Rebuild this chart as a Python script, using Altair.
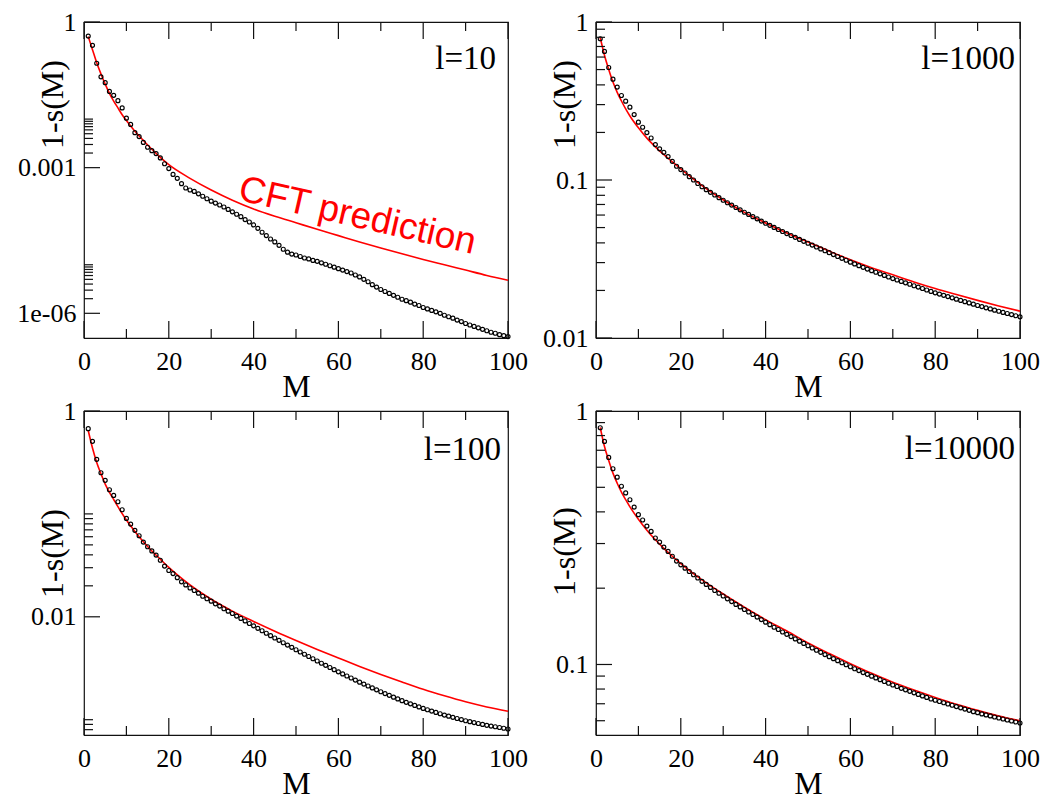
import altair as alt
import pandas as pd

SERIF = "Liberation Serif"
SANS = "Liberation Sans"

# ---------------- data (as log10 of 1-s(M)) ----------------
M = list(range(1, 101))

dots_l10_log10 = [
    -0.29, -0.48, -0.85, -1.13, -1.25, -1.43, -1.51, -1.62, -1.77, -1.98,
    -2.11, -2.28, -2.36, -2.48, -2.58, -2.65, -2.71, -2.80, -2.92, -3.02,
    -3.14, -3.22, -3.33, -3.42, -3.46, -3.49, -3.54, -3.59, -3.64, -3.69,
    -3.73, -3.77, -3.81, -3.86, -3.91, -3.96, -4.01, -4.07, -4.12, -4.18,
    -4.25, -4.33, -4.40, -4.47, -4.53, -4.60, -4.68, -4.74, -4.78, -4.80,
    -4.83, -4.86, -4.88, -4.91, -4.93, -4.96, -4.99, -5.02, -5.05, -5.08,
    -5.11, -5.14, -5.17, -5.21, -5.25, -5.30, -5.35, -5.41, -5.46, -5.51,
    -5.55, -5.59, -5.63, -5.67, -5.71, -5.74, -5.77, -5.81, -5.84, -5.88,
    -5.91, -5.94, -5.97, -6.00, -6.04, -6.07, -6.10, -6.14, -6.17, -6.21,
    -6.24, -6.27, -6.30, -6.33, -6.36, -6.39, -6.41, -6.44, -6.46, -6.48,
]
cft_l10_M = [1, 2, 3, 4, 5, 6, 7, 8, 9, 10, 12, 14, 16, 18, 20, 25, 30, 35, 40, 45,
             50, 55, 60, 65, 70, 75, 80, 85, 90, 95, 100]
cft_l10_log10 = [-0.30, -0.57, -0.84, -1.07, -1.28, -1.47, -1.63, -1.77, -1.91, -2.03,
                 -2.25, -2.44, -2.62, -2.79, -2.94, -3.22, -3.46, -3.67, -3.85, -4.00,
                 -4.135, -4.27, -4.40, -4.53, -4.655, -4.775, -4.89, -5.00, -5.11, -5.22, -5.32]

dots_l1000_log10 = [
    -0.106, -0.186, -0.288, -0.362, -0.412, -0.465, -0.501, -0.539, -0.586, -0.634,
    -0.666, -0.700, -0.734, -0.776, -0.803, -0.825, -0.852, -0.882, -0.913, -0.934,
    -0.956, -0.979, -1.000, -1.022, -1.043, -1.061, -1.078, -1.095, -1.112, -1.128,
    -1.144, -1.159, -1.174, -1.189, -1.204, -1.218, -1.232, -1.246, -1.260, -1.274,
    -1.287, -1.300, -1.313, -1.326, -1.339, -1.351, -1.363, -1.376, -1.388, -1.400,
    -1.412, -1.424, -1.436, -1.448, -1.460, -1.472, -1.484, -1.496, -1.508, -1.520,
    -1.531, -1.542, -1.553, -1.564, -1.574, -1.584, -1.594, -1.604, -1.614, -1.624,
    -1.633, -1.642, -1.651, -1.660, -1.669, -1.678, -1.687, -1.696, -1.705, -1.714,
    -1.722, -1.730, -1.738, -1.746, -1.754, -1.762, -1.770, -1.778, -1.786, -1.794,
    -1.801, -1.809, -1.816, -1.824, -1.831, -1.838, -1.845, -1.852, -1.859, -1.866,
]
cft_l1000_M = [1, 2, 3, 4, 5, 6, 7, 8, 10, 12, 14, 16, 18, 20, 25, 30, 35, 40, 45, 50,
               55, 60, 65, 70, 75, 80, 85, 90, 95, 100]
cft_l1000_log10 = [-0.10, -0.21, -0.30, -0.38, -0.445, -0.50, -0.55, -0.595, -0.67, -0.735,
                   -0.79, -0.84, -0.885, -0.93, -1.035, -1.125, -1.205, -1.272, -1.335, -1.393,
                   -1.45, -1.505, -1.555, -1.60, -1.645, -1.687, -1.725, -1.762, -1.797, -1.83]

dots_l100_log10 = [
    -0.172, -0.295, -0.470, -0.600, -0.674, -0.765, -0.820, -0.882, -0.960, -1.044,
    -1.099, -1.160, -1.212, -1.274, -1.319, -1.360, -1.400, -1.450, -1.507, -1.550,
    -1.580, -1.620, -1.660, -1.690, -1.720, -1.744, -1.770, -1.800, -1.825, -1.848,
    -1.874, -1.896, -1.922, -1.945, -1.968, -1.993, -2.016, -2.040, -2.065, -2.088,
    -2.112, -2.136, -2.160, -2.183, -2.206, -2.229, -2.252, -2.275, -2.297, -2.320,
    -2.342, -2.364, -2.386, -2.408, -2.430, -2.451, -2.472, -2.493, -2.514, -2.535,
    -2.555, -2.575, -2.595, -2.615, -2.635, -2.654, -2.673, -2.691, -2.710, -2.728,
    -2.746, -2.763, -2.781, -2.798, -2.815, -2.831, -2.846, -2.861, -2.876, -2.890,
    -2.903, -2.916, -2.929, -2.942, -2.955, -2.966, -2.977, -2.988, -2.999, -3.010,
    -3.019, -3.028, -3.037, -3.046, -3.055, -3.062, -3.069, -3.076, -3.083, -3.090,
]
cft_l100_M = [1, 2, 3, 4, 5, 6, 7, 8, 10, 12, 14, 16, 18, 20, 25, 30, 35, 40, 45, 50,
              55, 60, 65, 70, 75, 80, 85, 90, 95, 100]
cft_l100_log10 = [-0.19, -0.36, -0.50, -0.61, -0.71, -0.79, -0.86, -0.93, -1.06, -1.17,
                  -1.27, -1.36, -1.44, -1.52, -1.69, -1.83, -1.945, -2.045, -2.14, -2.23,
                  -2.317, -2.40, -2.482, -2.56, -2.634, -2.705, -2.768, -2.826, -2.876, -2.918]

dots_l10000_log10 = [
    -0.066, -0.120, -0.183, -0.228, -0.261, -0.297, -0.323, -0.350, -0.379, -0.409,
    -0.430, -0.454, -0.475, -0.501, -0.517, -0.537, -0.554, -0.573, -0.592, -0.607,
    -0.620, -0.633, -0.646, -0.659, -0.672, -0.684, -0.696, -0.708, -0.719, -0.730,
    -0.741, -0.752, -0.763, -0.773, -0.783, -0.793, -0.803, -0.813, -0.823, -0.833,
    -0.843, -0.853, -0.862, -0.872, -0.881, -0.890, -0.899, -0.908, -0.917, -0.926,
    -0.935, -0.944, -0.952, -0.961, -0.969, -0.977, -0.985, -0.993, -1.001, -1.009,
    -1.017, -1.024, -1.032, -1.039, -1.046, -1.053, -1.060, -1.067, -1.074, -1.081,
    -1.087, -1.094, -1.100, -1.106, -1.112, -1.118, -1.124, -1.130, -1.136, -1.141,
    -1.146, -1.151, -1.156, -1.161, -1.166, -1.171, -1.176, -1.181, -1.186, -1.190,
    -1.195, -1.199, -1.203, -1.207, -1.211, -1.215, -1.219, -1.223, -1.227, -1.231,
]
cft_l10000_M = [1, 2, 3, 4, 5, 6, 7, 8, 10, 12, 14, 16, 18, 20, 25, 30, 35, 40, 45, 50,
                55, 60, 65, 70, 75, 80, 85, 90, 95, 100]
cft_l10000_log10 = [-0.065, -0.14, -0.195, -0.245, -0.285, -0.32, -0.35, -0.378, -0.427, -0.47,
                    -0.508, -0.542, -0.573, -0.602, -0.666, -0.722, -0.774, -0.823, -0.868, -0.915,
                    -0.957, -0.997, -1.035, -1.07, -1.101, -1.13, -1.157, -1.181, -1.203, -1.222]

panel_labels = ["l=10", "l=1000", "l=100", "l=10000"]
annotation_text = "CFT prediction"
annotation_M = 64.5
annotation_value = 1.0e-4

x_major_ticks = [0, 20, 40, 60, 80, 100]
x_minor_ticks = [10, 30, 50, 70, 90]

y_major_l10 = [1, 1e-3, 1e-6]
y_labels_l10 = ["1", "0.001", "1e-06"]
y_minor_l10 = [0.002, 0.003, 0.004, 0.005, 0.006, 0.007, 0.008, 0.009, 0.01,
               2e-6, 3e-6, 4e-6, 5e-6, 6e-6, 7e-6, 8e-6, 9e-6, 1e-5]
y_major_l1000 = [1, 0.1, 0.01]
y_labels_l1000 = ["1", "0.1", "0.01"]
y_minor_l1000 = [0.2, 0.3, 0.4, 0.5, 0.6, 0.7, 0.8, 0.9,
                 0.02, 0.03, 0.04, 0.05, 0.06, 0.07, 0.08, 0.09]
y_major_l100 = [1, 0.01]
y_labels_l100 = ["1", "0.01"]
y_minor_l100 = [0.02, 0.03, 0.04, 0.05, 0.06, 0.07, 0.08, 0.09, 0.1,
                8e-4, 9e-4, 1e-3]
y_major_l10000 = [1, 0.1]
y_labels_l10000 = ["1", "0.1"]
y_minor_l10000 = [0.2, 0.3, 0.4, 0.5, 0.6, 0.7, 0.8, 0.9, 0.06, 0.07, 0.08, 0.09]

y_min = [3.1e-7, 0.01, 7.1e-4, 0.0527]


def label_expr(vals, texts):
    expr = "'" + texts[-1] + "'"
    for i in range(len(vals) - 2, -1, -1):
        thr = (vals[i] * vals[i + 1]) ** 0.5
        expr = "datum.value > %g ? '%s' : (%s)" % (thr, texts[i], expr)
    return expr


def make_panel(dots_log, cft_m, cft_log, label, ymin, majors, major_texts, minors,
               height, label_dx, label_y, title_y, annotate=False):
    W, H = 424, height
    xs = alt.Scale(domain=[0, 100], nice=False, zero=False)
    ys = alt.Scale(type="log", domain=[ymin, 1], nice=False, zero=False)
    xaxis = alt.Axis(values=x_major_ticks, ticks=False, tickSize=0, domain=False, grid=False,
                     labelFlush=False, labelOverlap=False, labelPadding=10,
                     labelFont=SERIF, labelFontSize=26, labelColor="black",
                     title="M", titleFont=SERIF, titleFontSize=32, titleFontWeight="normal",
                     titleColor="black", titleX=W / 2, titleY=58, titleAlign="center",
                     titleBaseline="alphabetic")
    yaxis = alt.Axis(values=majors, labelExpr=label_expr(majors, major_texts),
                     ticks=False, tickSize=0, domain=False, grid=False,
                     labelOverlap=False, labelPadding=8,
                     labelFont=SERIF, labelFontSize=26, labelColor="black",
                     title="1-s(M)", titleFont=SERIF, titleFontSize=32,
                     titleFontWeight="normal", titleColor="black", titleAngle=270,
                     titleX=-22, titleY=title_y, titleAlign="center",
                     titleBaseline="alphabetic")
    X = alt.X("x:Q", scale=xs, axis=xaxis)
    Y = alt.Y("y:Q", scale=ys, axis=yaxis)

    dots_df = pd.DataFrame({"x": M, "y": [10 ** v for v in dots_log]})
    cft_df = pd.DataFrame({"x": cft_m, "y": [10 ** v for v in cft_log]})
    xmaj_df = pd.DataFrame({"x": x_major_ticks})
    xmin_df = pd.DataFrame({"x": x_minor_ticks})
    ymaj_df = pd.DataFrame({"y": majors})
    ymin_df = pd.DataFrame({"y": minors})
    lab_df = pd.DataFrame({"t": [label]})

    tick = dict(color="#111111", strokeWidth=1.2)
    layers = [
        alt.Chart(cft_df).mark_line(color="#ff0000", strokeWidth=1.6, interpolate="monotone")
        .encode(x=X, y=Y),
        alt.Chart(dots_df).mark_point(shape="circle", filled=False, size=16, strokeWidth=1.15,
                                      color="black", opacity=1)
        .encode(x=X, y=Y),
        alt.Chart(xmaj_df).mark_rule(**tick)
        .encode(x=X, y=alt.value(H), y2=alt.value(H - 17)),
        alt.Chart(xmin_df).mark_rule(**tick)
        .encode(x=X, y=alt.value(H), y2=alt.value(H - 9)),
        alt.Chart(xmaj_df).mark_rule(**tick)
        .encode(x=X, y=alt.value(0), y2=alt.value(17)),
        alt.Chart(xmin_df).mark_rule(**tick)
        .encode(x=X, y=alt.value(0), y2=alt.value(9)),
        alt.Chart(ymaj_df).mark_rule(**tick)
        .encode(y=Y, x=alt.value(0), x2=alt.value(16)),
        alt.Chart(ymin_df).mark_rule(**tick)
        .encode(y=Y, x=alt.value(0), x2=alt.value(9)),
        alt.Chart(lab_df).mark_text(font=SERIF, fontSize=33, color="black", align="right",
                                    baseline="alphabetic")
        .encode(x=alt.value(W - label_dx), y=alt.value(label_y), text="t:N"),
    ]
    if annotate:
        ann_df = pd.DataFrame({"x": [annotation_M], "y": [annotation_value],
                               "t": [annotation_text]})
        layers.append(
            alt.Chart(ann_df).mark_text(font=SANS, fontSize=37, color="#ff0000", angle=13,
                                        align="center", baseline="middle")
            .encode(x=X, y=Y, text="t:N")
        )
    return alt.layer(*layers).properties(width=W, height=H)


p1 = make_panel(dots_l10_log10, cft_l10_M, cft_l10_log10, panel_labels[0], y_min[0],
                y_major_l10, y_labels_l10, y_minor_l10, 316, 12, 47, 82, annotate=True)
p2 = make_panel(dots_l1000_log10, cft_l1000_M, cft_l1000_log10, panel_labels[1], y_min[1],
                y_major_l1000, y_labels_l1000, y_minor_l1000, 316, 5, 47, 82)
p3 = make_panel(dots_l100_log10, cft_l100_M, cft_l100_log10, panel_labels[2], y_min[2],
                y_major_l100, y_labels_l100, y_minor_l100, 324, 7, 49, 142)
p4 = make_panel(dots_l10000_log10, cft_l10000_M, cft_l10000_log10, panel_labels[3], y_min[3],
                y_major_l10000, y_labels_l10000, y_minor_l10000, 324, 5, 48, 140)

chart = alt.concat(p1, p2, p3, p4, columns=2, spacing={"row": 73, "column": 88},
                   bounds="flush", align="each").properties(
    padding={"left": 8, "top": 0, "right": 0, "bottom": 0}
).configure(
    background="white",
    view=alt.ViewConfig(stroke="#111111", strokeWidth=1.2),
)

chart.save("out.html", embed_options={"renderer": "svg", "actions": False})
